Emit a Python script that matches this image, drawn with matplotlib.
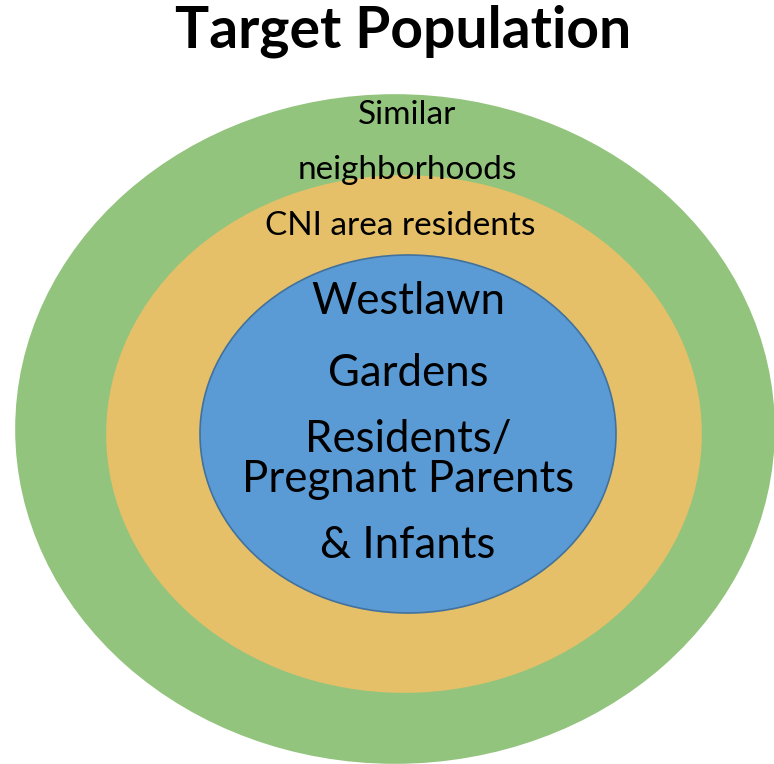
import matplotlib.pyplot as plt
from matplotlib.patches import Ellipse

plt.rcParams['font.family'] = ['Lato', 'DejaVu Sans']

# rings, outer to inner (pixel space of the 774x764 canvas)
ring_names = ["Similar neighborhoods", "CNI area residents", "Westlawn Gardens"]
ring_cx = [395, 404, 408]
ring_cy = [429, 434, 434]
ring_w = [758, 594, 416]
ring_h = [668, 516, 358]
ring_colors = ["#93c47d", "#e5c068", "#5b9bd5"]
ring_edges = ["#93c47d", "#e5c068", "#41719c"]

# text lines
line_text = ["Similar", "neighborhoods", "CNI area residents",
             "Westlawn", "Gardens", "Residents/", "Pregnant Parents", "& Infants"]
line_x = [407, 407, 400, 408, 408, 408, 408, 408]
line_y = [115, 170, 226, 302, 374, 439, 480, 546]
line_size = [24, 24, 24, 31.5, 31.5, 31.5, 31.5, 31.5]

fig = plt.figure(figsize=(7.74, 7.64), dpi=100)
ax = fig.add_axes([0, 0, 1, 1])
ax.set_xlim(0, 774)
ax.set_ylim(764, 0)
ax.axis('off')

for cx, cy, w, h, fc, ec in zip(ring_cx, ring_cy, ring_w, ring_h, ring_colors, ring_edges):
    ax.add_patch(Ellipse((cx, cy), w, h, facecolor=fc, edgecolor=ec, linewidth=1.2))

for t, x, y, s in zip(line_text, line_x, line_y, line_size):
    ax.text(x, y, t, fontsize=s, ha='center', va='center', color='black')

ax.text(403, 31, "Target Population", fontsize=41, fontweight='bold',
        ha='center', va='center', color='black')

plt.savefig("out.png", dpi=100)
